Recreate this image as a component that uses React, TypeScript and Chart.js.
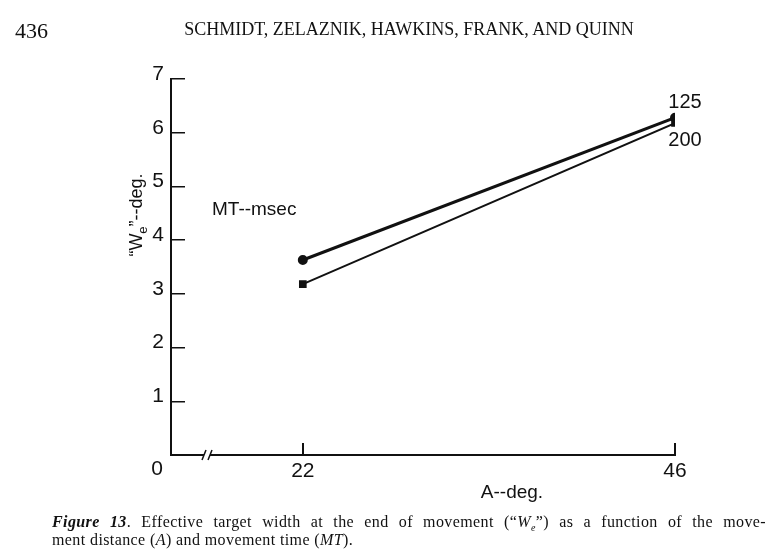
import React, { useEffect, useRef } from "react";
import { Chart, registerables } from "chart.js";

Chart.register(...registerables);

// ---- data ----
const distances = [22, 46]; // A--deg.
const mt125 = [3.63, 6.28]; // MT = 125 msec (circles)
const mt200 = [3.18, 6.18]; // MT = 200 msec (squares)
const seriesLabels = ["125", "200"];
const xTickValues = [22, 46];
const xAxisOrigin = 13.5; // broken axis: drawn position of "0"
const yMax = 7;

const FONT = "'Liberation Sans', Arial, sans-serif";
const SERIF = "'Liberation Serif', 'Times New Roman', serif";

const annotations = {
  id: "annotations",
  afterDraw(chart: any) {
    const ctx = chart.ctx as CanvasRenderingContext2D;
    const xs = chart.scales.x;
    const ys = chart.scales.y;
    const area = chart.chartArea;
    ctx.save();
    ctx.fillStyle = "#111";
    ctx.strokeStyle = "#111";

    // axis break "//"
    const bx = area.left + 36;
    const by = area.bottom;
    ctx.fillStyle = "#fff";
    ctx.fillRect(bx - 3, by - 3, 6, 6);
    ctx.fillStyle = "#111";
    ctx.lineWidth = 1.5;
    for (const dx of [-3, 3]) {
      ctx.beginPath();
      ctx.moveTo(bx + dx - 2, by + 5);
      ctx.lineTo(bx + dx + 2, by - 5);
      ctx.stroke();
    }

    // origin "0"
    ctx.font = `21px ${FONT}`;
    ctx.textAlign = "center";
    ctx.textBaseline = "middle";
    ctx.fillText("0", area.left - 14, area.bottom + 14);

    // x axis title
    ctx.font = `19px ${FONT}`;
    ctx.fillText("A--deg.", 512, area.bottom + 38);

    // legend title
    ctx.textAlign = "left";
    ctx.fillText("MT--msec", 212, 210);

    // series labels at A = 46
    ctx.font = `20px ${FONT}`;
    const last = distances.length - 1;
    const x46 = xs.getPixelForValue(distances[last]);
    ctx.textAlign = "center";
    ctx.fillText(seriesLabels[0], x46 + 10, ys.getPixelForValue(mt125[last]) - 15);
    ctx.fillText(seriesLabels[1], x46 + 10, ys.getPixelForValue(mt200[last]) + 17);

    // y axis title with subscript
    ctx.translate(136, 215);
    ctx.rotate(-Math.PI / 2);
    ctx.textBaseline = "alphabetic";
    ctx.textAlign = "left";
    const big = `18px ${FONT}`;
    const small = `13px ${FONT}`;
    const parts: [string, string, number][] = [
      ["\u201CW", big, 0],
      ["e", small, 5],
      ["\u201D--deg.", big, 0],
    ];
    let total = 0;
    for (const [t, f] of parts) {
      ctx.font = f;
      total += ctx.measureText(t).width;
    }
    let cx = -total / 2;
    for (const [t, f, dy] of parts) {
      ctx.font = f;
      ctx.fillText(t, cx, 6 + dy);
      cx += ctx.measureText(t).width;
    }
    ctx.restore();
  },
};

function ChartView() {
  const ref = useRef<HTMLCanvasElement | null>(null);
  useEffect(() => {
    if (!ref.current) return;
    const chart = new Chart(ref.current, {
      type: "line",
      data: {
        datasets: [
          {
            label: seriesLabels[0],
            data: distances.map((x, i) => ({ x, y: mt125[i] })),
            borderColor: "#111",
            backgroundColor: "#111",
            borderWidth: 3,
            pointStyle: "circle",
            pointRadius: 3.5,
          },
          {
            label: seriesLabels[1],
            data: distances.map((x, i) => ({ x, y: mt200[i] })),
            borderColor: "#111",
            backgroundColor: "#111",
            borderWidth: 2,
            pointStyle: "rect",
            pointRadius: 4,
          },
        ],
      },
      options: {
        animation: false,
        responsive: false,
        layout: { padding: { left: 0, top: 79, right: 109, bottom: 0 } },
        plugins: { legend: { display: false }, tooltip: { enabled: false } },
        scales: {
          x: {
            type: "linear",
            min: xAxisOrigin,
            max: distances[distances.length - 1],
            afterBuildTicks: (s: any) => {
              s.ticks = xTickValues.map((v) => ({ value: v }));
            },
            afterFit: (s: any) => {
              s.height = 97;
            },
            border: { color: "#111", width: 2 },
            grid: { drawOnChartArea: false, tickLength: -12, color: "#111", lineWidth: 2 },
            ticks: {
              color: "#111",
              font: { family: FONT, size: 21 },
              padding: 16,
              maxRotation: 0,
              autoSkip: false,
            },
          },
          y: {
            type: "linear",
            min: 0,
            max: yMax,
            afterFit: (s: any) => {
              s.width = 171;
            },
            border: { color: "#111", width: 2 },
            grid: { drawOnChartArea: false, tickLength: -14, color: "#111", lineWidth: 1.5 },
            ticks: {
              stepSize: 1,
              color: "#111",
              font: { family: FONT, size: 21 },
              padding: 21,
              labelOffset: -5,
              callback: (v: any) => (v === 0 ? "" : String(v)),
            },
          },
        },
      },
      plugins: [annotations],
    });
    return () => chart.destroy();
  }, []);
  return (
    <canvas
      ref={ref}
      width={784}
      height={552}
      style={{ position: "absolute", left: 0, top: 0, width: 784, height: 552 }}
    />
  );
}

export default function App() {
  return (
    <div
      style={{
        position: "fixed",
        left: 0,
        top: 0,
        width: 784,
        height: 552,
        background: "#fff",
        overflow: "hidden",
        color: "#111",
        fontFamily: SERIF,
      }}
    >
      <ChartView />
      <div style={{ position: "absolute", left: 15, top: 18, fontSize: 22 }}>436</div>
      <div
        style={{
          position: "absolute",
          left: 180,
          top: 19,
          width: 458,
          fontSize: 18,
          whiteSpace: "nowrap",
          textAlign: "center",
        }}
      >
        SCHMIDT, ZELAZNIK, HAWKINS, FRANK, AND QUINN
      </div>
      <div
        style={{
          position: "absolute",
          left: 52,
          top: 513,
          width: 714,
          fontSize: 16,
          lineHeight: "18px",
          letterSpacing: "0.4px",
        }}
      >
        <div style={{ textAlign: "justify", textAlignLast: "justify", whiteSpace: "nowrap", height: 18 } as any}>
          <b><i>Figure 13</i></b>. Effective target width at the end of movement (“<i>W</i>
          <sub style={{ fontSize: 10, lineHeight: 0 }}><i>e</i></sub>”) as a function of the move-
        </div>
        <div>
          ment distance (<i>A</i>) and movement time (<i>MT</i>).
        </div>
      </div>
    </div>
  );
}
